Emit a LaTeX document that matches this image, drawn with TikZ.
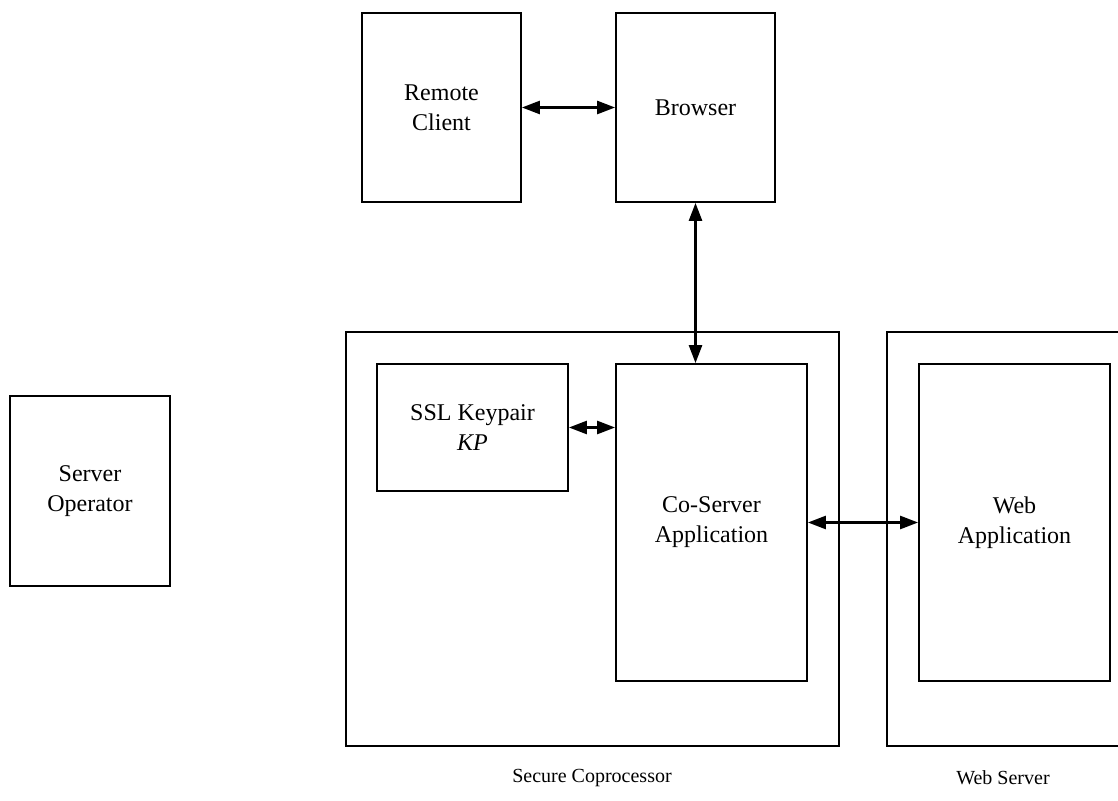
\documentclass[tikz,border=0pt]{standalone}
\usepackage{fontspec}
\setmainfont{Liberation Serif}
\usetikzlibrary{arrows.meta}
\tikzset{
  box/.style={draw, line width=0.9pt, rectangle, inner sep=0pt, align=center,
    font=\fontsize{12}{15}\selectfont},
  frame/.style={draw, line width=0.9pt, rectangle, inner sep=0pt},
  caption/.style={font=\fontsize{10}{12}\selectfont, inner sep=0pt},
  link/.style={line width=1.3pt,
    {Triangle[length=9pt,width=6.5pt]}-{Triangle[length=9pt,width=6.5pt]}}
}
\begin{document}
\begin{tikzpicture}[x=0.5pt,y=-0.5pt]
\useasboundingbox (0,0) rectangle (1118,801);
% enclosing frames
\node[frame, minimum width=246.5pt, minimum height=207pt] (sc) at (592.5,539) {};
\node[frame, minimum width=122pt, minimum height=207pt] (ws) at (1009,539) {};
% components
\node[box, minimum width=79.5pt, minimum height=94.5pt] (rc) at (441.5,107.5) {Remote\\Client};
\node[box, minimum width=79.5pt, minimum height=94.5pt] (br) at (695.5,107.5) {Browser};
\node[box, minimum width=95.5pt, minimum height=63.5pt] (kp) at (472.5,427.5) {SSL Keypair\\\textit{KP}};
\node[box, minimum width=95.5pt, minimum height=158.5pt] (cs) at (711.5,522.5) {Co-Server\\Application};
\node[box, minimum width=95.5pt, minimum height=158.5pt] (wa) at (1014.5,522.5) {Web\\Application};
\node[box, minimum width=80pt, minimum height=95pt] (so) at (90,491) {Server\\Operator};
% frame captions
\node[caption] (scl) at (592,778) {Secure Coprocessor};
\node[caption] (wsl) at (1003,778) {Web Server};
% connections
\draw[link] (rc.east) -- (br.west);
\draw[link] (br.south) -- (br.south |- cs.north);
\draw[link] (kp.east) -- (kp.east -| cs.west);
\draw[link] (cs.east) -- (wa.west);
\end{tikzpicture}
\end{document}
